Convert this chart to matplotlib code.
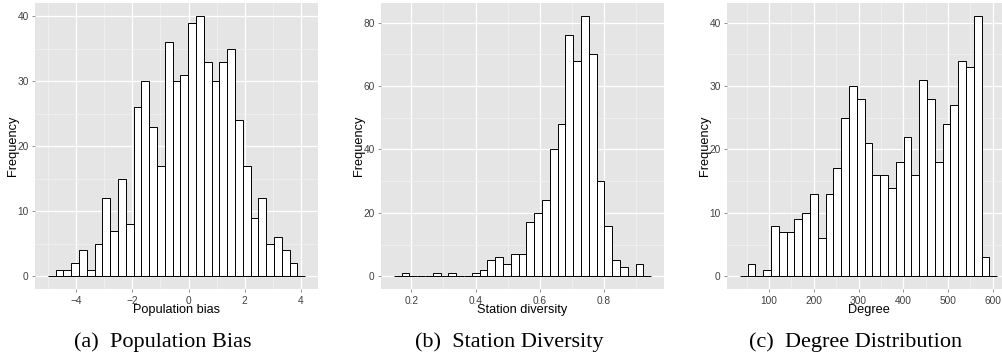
import numpy as np
import matplotlib
matplotlib.use('Agg')
import matplotlib.pyplot as plt
from matplotlib.ticker import MultipleLocator

# histogram counts (first and last bins are empty)
bias_counts = [0, 1, 1, 2, 4, 1, 5, 12, 7, 15, 8, 26, 30, 23, 17, 36, 30, 31, 39, 40,
               33, 30, 33, 35, 24, 17, 9, 12, 5, 6, 4, 2, 0]
bias_start, bias_width = -5.015, 0.2779

div_counts = [0, 1, 0, 0, 0, 1, 0, 1, 0, 0, 1, 2, 5, 6, 4, 7, 7, 17, 20, 24, 40,
              48, 76, 68, 82, 70, 30, 16, 5, 3, 0, 4, 0]
div_start, div_width = 0.1458, 0.02427

deg_counts = [0, 2, 0, 1, 8, 7, 7, 9, 10, 13, 6, 13, 17, 25, 30, 28, 21, 16, 16, 14,
              18, 22, 16, 31, 28, 18, 24, 27, 34, 33, 41, 3, 0]
deg_start, deg_width = 34.9, 17.42

xlabels = ['Population bias', 'Station diversity', 'Degree']
captions = ['(a)  Population Bias', '(b)  Station Diversity', '(c)  Degree Distribution']
xsteps = [2, 0.2, 100]
ysteps = [10, 20, 10]

W, H = 1003, 360
fig = plt.figure(figsize=(W / 100, H / 100), dpi=100)
plt.rcParams['font.family'] = ['Liberation Sans', 'DejaVu Sans']

lefts = [35, 381, 727]
caption_x = [163, 509, 856]
data = [(bias_counts, bias_start, bias_width),
        (div_counts, div_start, div_width),
        (deg_counts, deg_start, deg_width)]

for i, (counts, start, width) in enumerate(data):
    ax = fig.add_axes([lefts[i] / W, (H - 289.3) / H, 283 / W, 286 / H])
    counts = np.array(counts)
    edges = start + width * np.arange(len(counts) + 1)
    ax.bar(edges[:-1], counts, width=width, align='edge', color='white',
           edgecolor='black', linewidth=0.7, zorder=3)

    rng = edges[-1] - edges[0]
    ax.set_xlim(edges[0] - 0.05 * rng, edges[-1] + 0.05 * rng)
    ax.set_ylim(-0.05 * counts.max(), 1.05 * counts.max())

    ax.set_facecolor('#E5E5E5')
    for s in ax.spines.values():
        s.set_visible(False)
    ax.xaxis.set_major_locator(MultipleLocator(xsteps[i]))
    ax.xaxis.set_minor_locator(MultipleLocator(xsteps[i] / 2))
    ax.yaxis.set_major_locator(MultipleLocator(ysteps[i]))
    ax.yaxis.set_minor_locator(MultipleLocator(ysteps[i] / 2))
    ax.grid(which='major', color='white', linewidth=0.9, zorder=1)
    ax.grid(which='minor', color='#F2F2F2', linewidth=0.5, zorder=0)
    ax.set_axisbelow(True)
    ax.tick_params(which='major', length=2.5, width=0.6, color='#7F7F7F',
                   labelsize=7.3, labelcolor='#404040', pad=2)
    ax.tick_params(which='minor', length=0)

    ax.set_xlabel(xlabels[i], fontsize=9.2, labelpad=-1)
    ax.set_ylabel('Frequency', fontsize=9.2, va='center')
    ax.yaxis.set_label_coords(-22 / 283, 0.5)

    fig.text(caption_x[i] / W, (H - 347) / H, captions[i], ha='center', va='baseline',
             fontsize=16, family=['Liberation Serif', 'DejaVu Serif'])

fig.savefig('out.png', dpi=100)
